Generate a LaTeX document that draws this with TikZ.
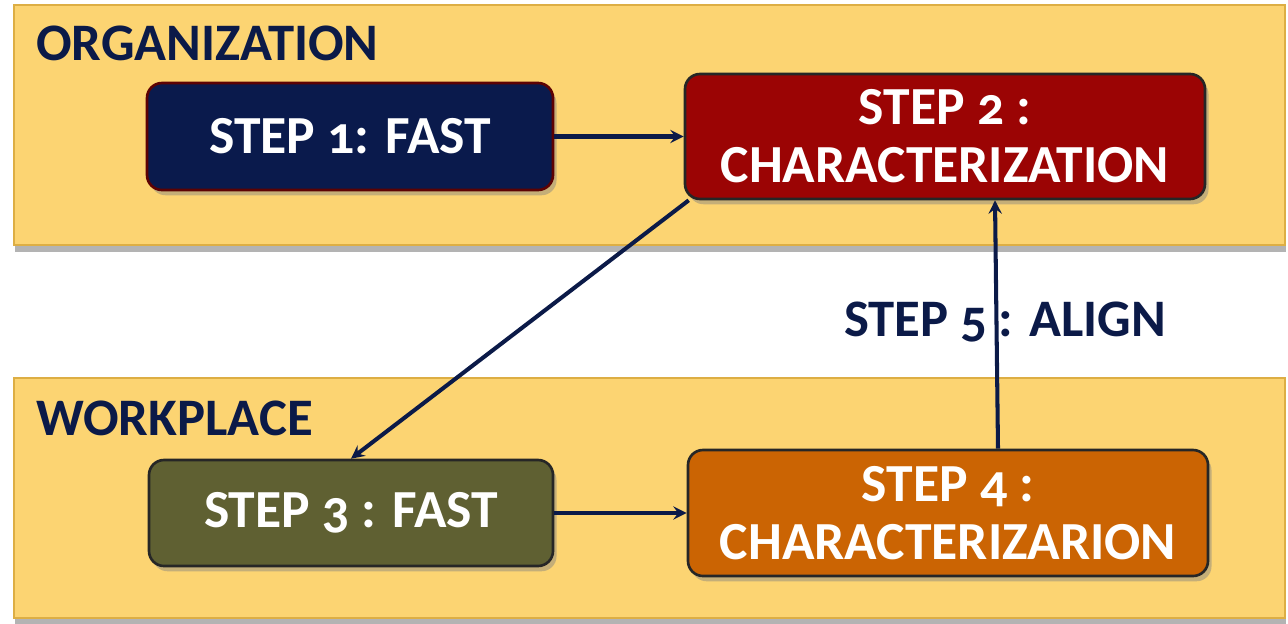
\documentclass[tikz,border=0pt]{standalone}
\usepackage{fontspec}
\setmainfont{Carlito}[Numbers=OldStyle]
\usetikzlibrary{shadows}

\definecolor{bandGold}{HTML}{FCD472}
\definecolor{bandEdge}{HTML}{DDAE44}
\definecolor{navyInk}{HTML}{0B1A48}
\definecolor{stepNavy}{HTML}{0A1A4C}
\definecolor{stepRed}{HTML}{9B0404}
\definecolor{stepOlive}{HTML}{5F6032}
\definecolor{stepOrange}{HTML}{CB6403}

\begin{document}
\begin{tikzpicture}
[bandDecorate/.style={draw=bandEdge,line width=1.5pt,fill=bandGold,
   drop shadow={shadow xshift=0.5pt,shadow yshift=-4pt,opacity=0.6}},%
  stepDecorate/.style={rectangle,rounded corners=0.3cm,draw=black!85,line width=1.5pt,
   text=white,align=center,font=\fontsize{30.5}{33}\selectfont\bfseries,
   drop shadow={shadow xshift=2pt,shadow yshift=-3pt,opacity=0.45}},%
  headDecorate/.style={text=navyInk,font=\fontsize{30}{32}\selectfont\bfseries},%
  darkArrow/.style={->,>=stealth,line width=2.3pt,color=navyInk}]
\useasboundingbox (0,0) rectangle (25.76,12.46);
%% bands
\node (orgband) [bandDecorate,minimum width=25.42cm,minimum height=4.8cm,inner sep=0pt]
  at (12.99,9.96) {};
\node (workband) [bandDecorate,minimum width=25.42cm,minimum height=4.8cm,inner sep=0pt]
  at (12.99,2.5) {};
\node (orghead) [headDecorate,anchor=west] at (0.6,11.6) {ORGANIZATION};
\node (workhead) [headDecorate,anchor=west] at (0.6,4.1) {WORKPLACE};
%% steps
\foreach \nodename/\x/\y/\w/\h/\col/\edge/\txt in {
  step1/7.0/9.73/8.12/2.14/stepNavy/stepRed!60!black/{STEP 1: FAST},
  step2/18.9/9.73/10.4/2.5/stepRed/black!85/{STEP 2 :\\CHARACTERIZATION},
  step3/7.02/2.2/8.08/2.12/stepOlive/black!85/{STEP 3 : FAST},
  step4/18.96/2.2/10.4/2.52/stepOrange/black!85/{STEP 4 :\\CHARACTERIZARION}}
{
  \node (\nodename) at (\x,\y) [stepDecorate,fill=\col,draw=\edge,
    minimum width=\w cm,minimum height=\h cm] {\txt};
}
\node (align) [headDecorate] at (20.1,6.02) {STEP 5 : ALIGN};
%% arrows
\draw[darkArrow] (step1) -- (step2);
\draw[darkArrow] (step3) -- (step4);
\draw[darkArrow] ([xshift=0.1cm]step2.south west) -- (step3.north);
\draw[darkArrow] ([xshift=1cm]step4.north) -- ([xshift=1cm]step2.south);
\end{tikzpicture}
\end{document}
